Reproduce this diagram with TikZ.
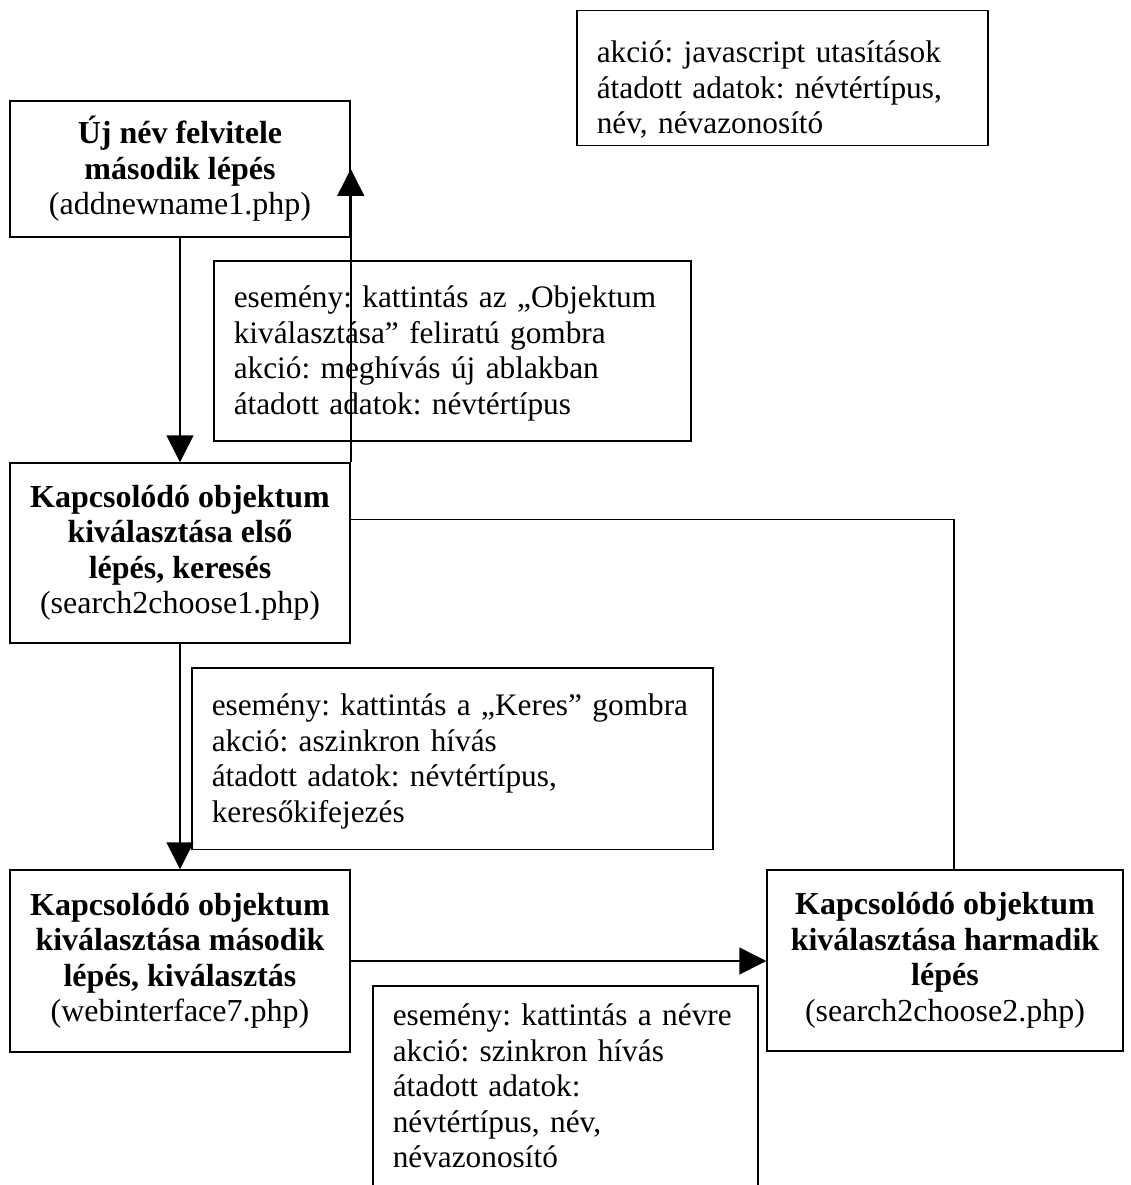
\documentclass[tikz,border=0pt]{standalone}
\usepackage{fontspec}
\setmainfont{Liberation Serif}
\usetikzlibrary{arrows.meta}
% vertical padding above the first baseline / below the last baseline of a note
\newcommand\topgap[1]{\rule{0pt}{#1}}
\newcommand\botgap[1]{\rule[-#1]{0pt}{#1}}
% one unbreakable line of a note
\newcommand\oneline[1]{\mbox{#1}}
\begin{document}
\begin{tikzpicture}[x=1pt,y=-1pt,
  every node/.style={font={\fontsize{32}{35.5}\selectfont\frenchspacing}},
  page/.style={draw, line width=1.5pt, inner sep=0pt, align=center},
  note/.style={draw, line width=1.5pt, anchor=north west, align=left,
               inner xsep=20pt, inner ysep=0pt,
               font={\fontsize{31.3}{35.5}\selectfont\frenchspacing}},
  link/.style={line width=1.5pt},
  flow/.style={link, -{Triangle[length=27pt,width=27pt]}}]
\useasboundingbox (0,0) rectangle (1130,1185);

% pages of the workflow
\node[page, minimum width=340, minimum height=136] (A) at (180,169)
  {\textbf{Új név felvitele}\\\textbf{második lépés}\\(addnewname1.php)};
\node[page, minimum width=340, minimum height=180] (B) at (180,553)
  {\textbf{Kapcsolódó objektum}\\\textbf{kiválasztása első}\\\textbf{lépés, keresés}\\(search2choose1.php)};
\node[page, minimum width=340, minimum height=182] (C) at (180,961)
  {\textbf{Kapcsolódó objektum}\\\textbf{kiválasztása második}\\\textbf{lépés, kiválasztás}\\(webinterface7.php)};
\node[page, minimum width=356, minimum height=181] (D) at (945,960.5)
  {\textbf{Kapcsolódó objektum}\\\textbf{kiválasztása harmadik}\\\textbf{lépés}\\(search2choose2.php)};

% event / action notes
\node[note, text width=371pt] (js) at (576,10)
  {\topgap{52pt}\oneline{akció: javascript utasítások}\\
   \oneline{átadott adatok: névtértípus,}\\
   \oneline{név, névazonosító}\botgap{12pt}};
\node[note, text width=437pt] (n1) at (213,260)
  {\topgap{47pt}\oneline{esemény: kattintás az „Objektum}\\
   \oneline{kiválasztása” feliratú gombra}\\
   \oneline{akció: meghívás új ablakban}\\
   \oneline{átadott adatok: névtértípus}\botgap{26.5pt}};
\node[note, text width=481pt] (n2) at (191,667)
  {\topgap{48pt}\oneline{esemény: kattintás a „Keres” gombra}\\
   \oneline{akció: aszinkron hívás}\\
   \oneline{átadott adatok: névtértípus,}\\
   \oneline{keresőkifejezés}\botgap{27pt}};
\node[note, text width=345pt] (n3) at (372,985)
  {\topgap{40pt}\oneline{esemény: kattintás a névre}\\
   \oneline{akció: szinkron hívás}\\
   \oneline{átadott adatok:}\\
   \oneline{névtértípus, név,}\\
   \oneline{névazonosító}\botgap{27pt}};

% connectors
\draw[flow] (A.south) -- (B.north);
\draw[flow] (B.north east) -- (A.east);
\draw[flow] (B.south) -- (C.north);
\draw[flow] (C.east) -- (C.east -| D.west);
\draw[link] ([yshift=-57pt]B.north east) -| ([xshift=9pt]D.north);
\end{tikzpicture}
\end{document}
